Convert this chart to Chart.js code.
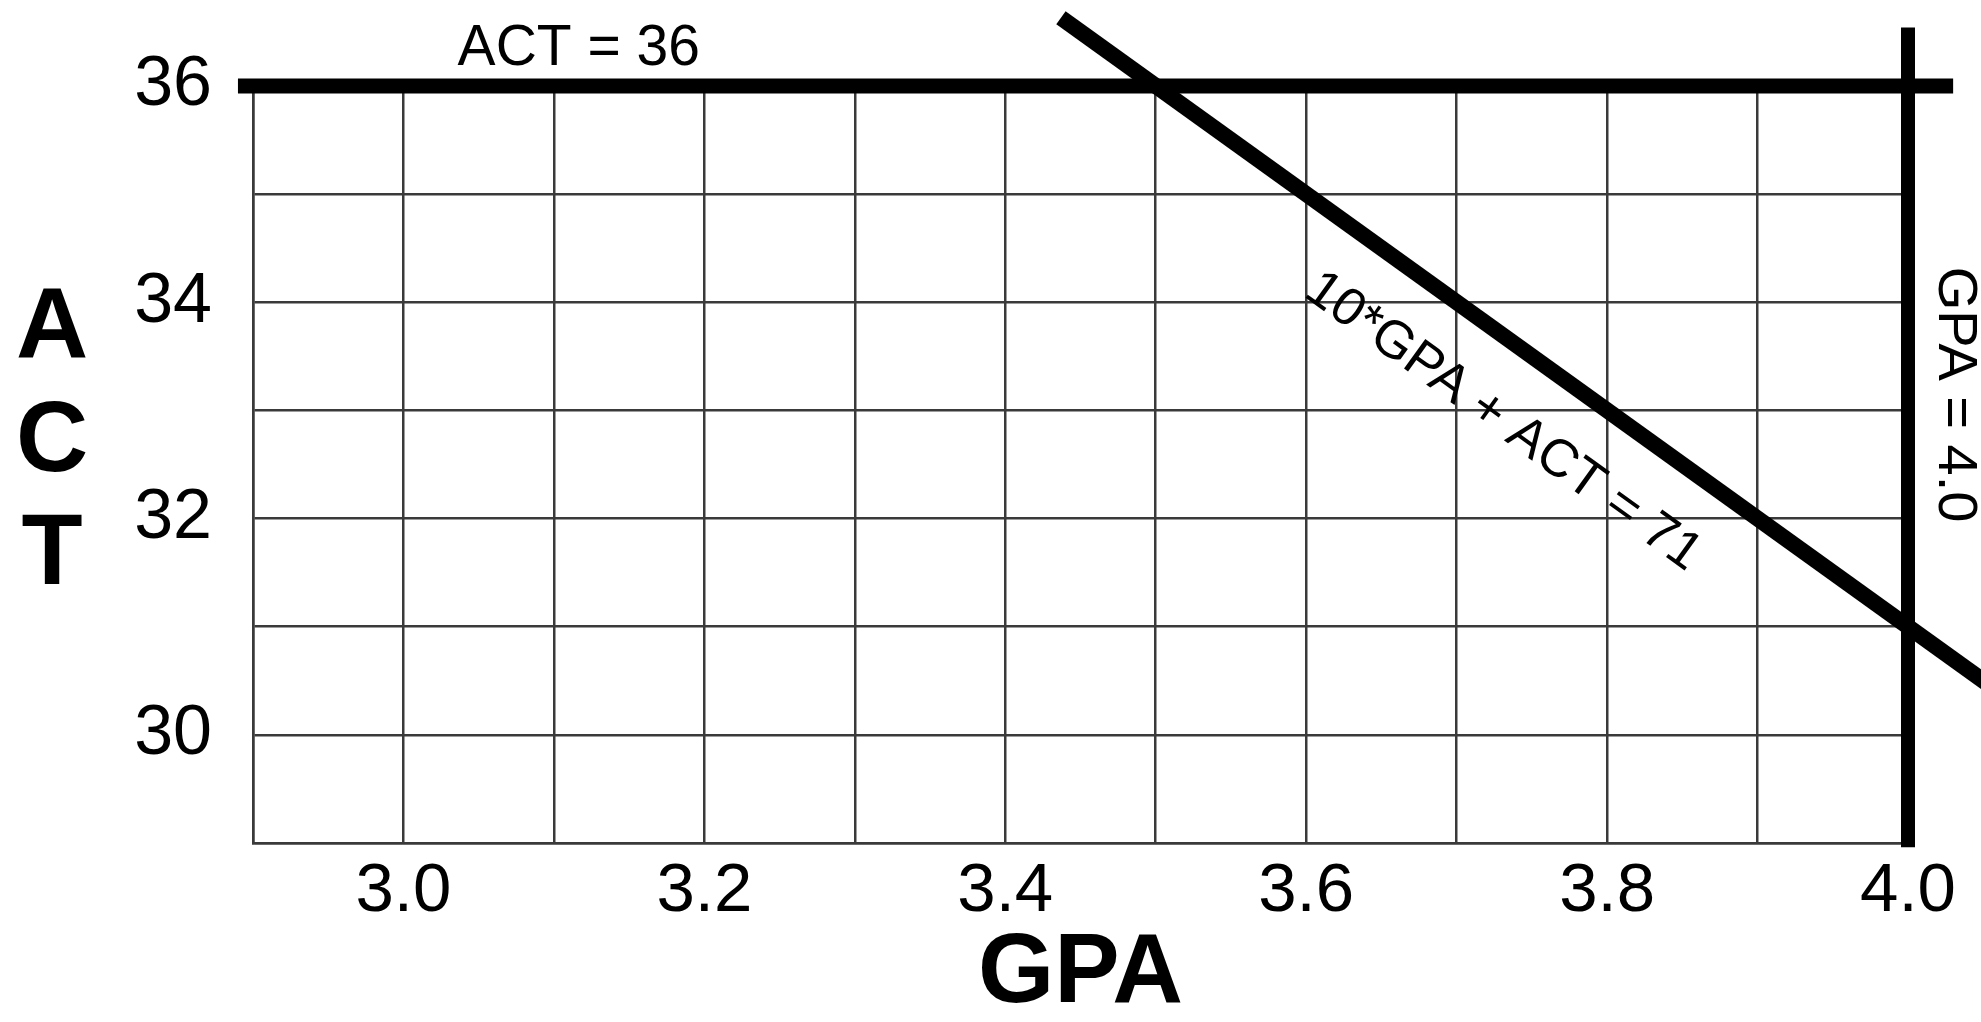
<!DOCTYPE html>
<html><head><meta charset="utf-8">
<script src="https://cdn.jsdelivr.net/npm/chart.js@4.4.1/dist/chart.umd.min.js"></script>
<style>html,body{margin:0;padding:0;background:#fff;overflow:hidden}#wrap{width:1981px;height:1022px;position:relative}</style>
</head><body><div id="wrap"><canvas id="c"></canvas></div>
<script>
// ---- data ----
const xGridValues = [2.9, 3.0, 3.1, 3.2, 3.3, 3.4, 3.5, 3.6, 3.7, 3.8, 3.9, 4.0];
const xTickLabels = ['', '3.0', '', '3.2', '', '3.4', '', '3.6', '', '3.8', '', '4.0'];
const yGridValues = [29, 30, 31, 32, 33, 34, 35, 36];
const yTickLabels = ['', '30', '', '32', '', '34', '', '36'];
const xAxisTitle = 'GPA';
const yAxisTitle = 'ACT';
// constraint lines
const act36GPA = [2.89, 4.03];
const act36ACT = [36, 36];
const gpa4GPA = [4.0, 4.0];
const gpa4ACT = [28.96, 36.54];
const sumGPA = [3.437, 4.07];
const sumACT = [36.63, 30.3];
const lineLabels = ['ACT = 36', 'GPA = 4.0', '10*GPA + ACT = 71'];

const FONT = '"Liberation Sans", Arial, Helvetica, sans-serif';
Chart.defaults.font.family = FONT;
Chart.defaults.color = '#000';

function pts(xs, ys) { return xs.map((x, i) => ({x: x, y: ys[i]})); }

const thick = {showLine: true, pointRadius: 0, borderColor: '#000', borderWidth: 14, clip: false, fill: false, tension: 0};

const bgPlugin = {
  id: 'bg',
  beforeDraw(chart) {
    const c = chart.ctx; c.save(); c.fillStyle = '#fff'; c.fillRect(0, 0, chart.width, chart.height); c.restore();
  }
};

const labelPlugin = {
  id: 'labels',
  afterDatasetsDraw(chart) {
    const c = chart.ctx, xs = chart.scales.x, ys = chart.scales.y;
    c.save();
    c.fillStyle = '#000';
    // ACT = 36
    c.font = '57px ' + FONT;
    c.textAlign = 'left'; c.textBaseline = 'alphabetic';
    c.fillText(lineLabels[0], xs.getPixelForValue(3.036), ys.getPixelForValue(36) - 21);
    // GPA = 4.0 (rotated)
    c.save();
    c.translate(xs.getPixelForValue(4.0) + 46, ys.getPixelForValue(33.147));
    c.rotate(Math.PI / 2);
    c.font = '56px ' + FONT;
    c.textAlign = 'center'; c.textBaseline = 'middle';
    c.fillText(lineLabels[1], 0, 0);
    c.restore();
    // diagonal label
    const x1 = xs.getPixelForValue(sumGPA[0]), y1 = ys.getPixelForValue(sumACT[0]);
    const x2 = xs.getPixelForValue(sumGPA[1]), y2 = ys.getPixelForValue(sumACT[1]);
    const ang = Math.atan2(y2 - y1, x2 - x1);
    const g = 3.758, fx = xs.getPixelForValue(g), fy = ys.getPixelForValue(71 - 10 * g);
    const d = 70;
    c.save();
    c.translate(fx - Math.sin(ang) * d, fy + Math.cos(ang) * d);
    c.rotate(ang);
    c.font = '53px ' + FONT;
    c.textAlign = 'center'; c.textBaseline = 'middle';
    c.fillText(lineLabels[2], 0, 0);
    c.restore();
    // stacked y-axis title
    c.font = 'bold 100px ' + FONT;
    c.textAlign = 'center'; c.textBaseline = 'middle';
    const letters = yAxisTitle.split('');
    const cy = 443, step = 113;
    letters.forEach((ch, i) => {
      c.fillText(ch, 52, cy + (i - (letters.length - 1) / 2) * step);
    });
    c.restore();
  }
};

const gridColor = '#3a3a3a';

new Chart(document.getElementById('c'), {
  type: 'scatter',
  data: {
    datasets: [
      Object.assign({label: lineLabels[0], data: pts(act36GPA, act36ACT)}, thick, {borderWidth: 15}),
      Object.assign({label: lineLabels[1], data: pts(gpa4GPA, gpa4ACT)}, thick),
      Object.assign({label: lineLabels[2], data: pts(sumGPA, sumACT)}, thick, {borderWidth: 16})
    ]
  },
  options: {
    responsive: true,
    maintainAspectRatio: false,
    devicePixelRatio: 1,
    animation: false,
    events: [],
    layout: {padding: {top: 86, right: 73, left: 0, bottom: 0}},
    plugins: {legend: {display: false}, tooltip: {enabled: false}, title: {display: false}},
    scales: {
      x: {
        type: 'linear', min: 2.9, max: 4.0,
        afterBuildTicks(scale) { scale.ticks = xGridValues.map(v => ({value: v})); },
        afterFit(scale) { scale.height = 179; },
        ticks: {
          autoSkip: false, maxRotation: 0, minRotation: 0, padding: 8,
          font: {size: 69}, color: '#000',
          callback: (v, i) => xTickLabels[i]
        },
        grid: {color: gridColor, lineWidth: 2.5, drawTicks: false},
        border: {display: true, color: gridColor, width: 2.5},
        title: {display: true, text: xAxisTitle, color: '#000',
          font: {size: 98, weight: 'bold', lineHeight: 0.9}, padding: {top: 0, bottom: 3}}
      },
      y: {
        type: 'linear', min: 29, max: 36,
        afterBuildTicks(scale) { scale.ticks = yGridValues.map(v => ({value: v})); },
        afterFit(scale) { scale.width = 253; },
        ticks: {
          autoSkip: false, padding: 41,
          font: {size: 70}, color: '#000',
          callback: (v, i) => yTickLabels[i]
        },
        grid: {color: gridColor, lineWidth: 2.5, drawTicks: false},
        border: {display: true, color: gridColor, width: 2.5}
      }
    }
  },
  plugins: [bgPlugin, labelPlugin]
});
</script>
</body></html>
